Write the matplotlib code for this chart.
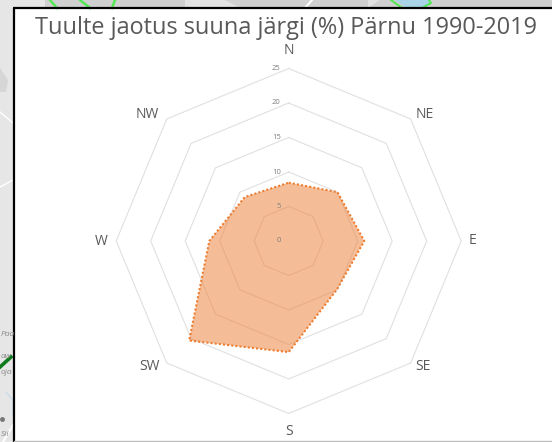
import matplotlib
matplotlib.use('Agg')
import matplotlib.pyplot as plt
import numpy as np
from matplotlib.patches import Rectangle

directions = ['N', 'NE', 'E', 'SE', 'S', 'SW', 'W', 'NW']
wind_share = [8.45, 10.0, 10.95, 9.9, 16.1, 20.4, 11.5, 9.0]
rings = [5, 10, 15, 20, 25]
ring_labels = ['5', '10', '15', '20', '25']

plt.rcParams['font.family'] = ['Open Sans', 'DejaVu Sans']

W, H = 552, 442
cx, cy, R = 288.7, 241.0, 172.5

fig = plt.figure(figsize=(W / 100, H / 100), dpi=100, facecolor='#e6e6e6')

# map showing behind the chart, in pixels
bg = fig.add_axes([0, 0, 1, 1])
bg.set_xlim(0, W)
bg.set_ylim(H, 0)
bg.axis('off')
bg.add_patch(Rectangle((45, 0), W - 45, 8, color='#d0d0d0', lw=0))
bg.fill([0, 8, 6, 0], [68, 80, 92, 92], color='#d6d6d6', lw=0)
bg.fill([185, 240, 225, 185], [8, 8, 0, 0], color='#e2e2e2', lw=0)
bg.fill([368, 380, 368], [0, 0, 8], color='#e2e2e2', lw=0)
bg.plot([50, 57], [0, 8], color='#55e855', lw=1.8)
bg.plot([80, 90], [0, 8], color='#55e855', lw=1.8)
bg.plot([115, 112], [0, 8], color='#55e855', lw=1.8)
bg.fill([395, 405, 425, 431, 428], [0, 7, 7, 2, 0], color='#a9d3e6', lw=0)
bg.plot([391, 402, 422, 431, 429], [0, 8, 8, 3, 0], color='#55e855', lw=1.5)
bg.plot([305, 312], [8, 0], color='white', lw=1.5)
bg.plot([0, 13], [112, 123], color='white', lw=1)
bg.plot([0, 13], [187, 180], color='white', lw=1)
bg.plot([0, 11], [367, 357], color='#0f7a1e', lw=2.6)
bg.plot([6, 13, 13], [392, 400, 415], color='#c2dbe8', lw=0.8)
bg.plot([3, 13], [442, 425], color='white', lw=1.5)
bg.plot([1.5], [419], 'o', color='#777777', ms=2.5)
for txt, y in [('Paa', 335), ('aw', 356), ('oja', 372), ('Sii', 435)]:
    bg.text(1, y, txt, ha='left', va='center', fontsize=6, style='italic', color='#8a8a8a')

# white chart panel with its black edge
bg.add_patch(Rectangle((14, 8), W - 14, H - 9, facecolor='white', edgecolor='none'))
bg.plot([14, 14], [H, 8], color='black', lw=1.6, solid_capstyle='butt')
bg.plot([13, W], [8, 8], color='black', lw=1.6, solid_capstyle='butt')
bg.plot([14, W], [441, 441], color='#bdbdbd', lw=1)

ax = fig.add_axes([(cx - R) / W, (H - cy - R) / H, 2 * R / W, 2 * R / H], projection='polar')
ax.set_theta_zero_location('N')
ax.set_theta_direction(-1)
ax.set_ylim(0, 25)
ax.patch.set_alpha(0)
ax.spines['polar'].set_visible(False)
ax.grid(False)
ax.set_xticks([])
ax.set_yticks([])

angles = np.deg2rad(np.arange(0, 360, 45))
closed = np.append(angles, angles[0])

for r in rings:
    ax.plot(closed, [r] * len(closed), color='#e0e0e0', lw=0.8, zorder=1, clip_on=False)

vals = wind_share + wind_share[:1]
ax.fill(closed, vals, color='#ed7d31', alpha=0.5, lw=0, zorder=2)
ax.plot(closed, vals, color='#ed7d31', lw=1.5, ls=(0, (1, 1)), zorder=3)

for r, lab in zip([0] + rings, ['0'] + ring_labels):
    ax.annotate(lab, (0, r), xytext=(-5.8, 0), textcoords='offset points', fontsize=5.5,
                color='#7f7f7f', ha='right', va='center', zorder=4)

# label offsets from the outer ring corner, in pixels
label_dx = [0, 14, 11, 12, 0, -17, -15, -19]
label_dy = [18, 5, 0, -4, -18, -4, 0, 5]
for a, d, dx, dy in zip(angles, directions, label_dx, label_dy):
    ax.annotate(d, (a, 25), xytext=(dx * 0.72, dy * 0.72), textcoords='offset points',
                fontsize=10, color='#595959', ha='center', va='center', annotation_clip=False)

fig.text(286 / W, 1 - 28.5 / H, 'Tuulte jaotus suuna järgi (%) Pärnu 1990-2019', fontsize=16.9,
         color='#595959', ha='center', va='center')

fig.savefig('out.png', dpi=100, facecolor=fig.get_facecolor())
